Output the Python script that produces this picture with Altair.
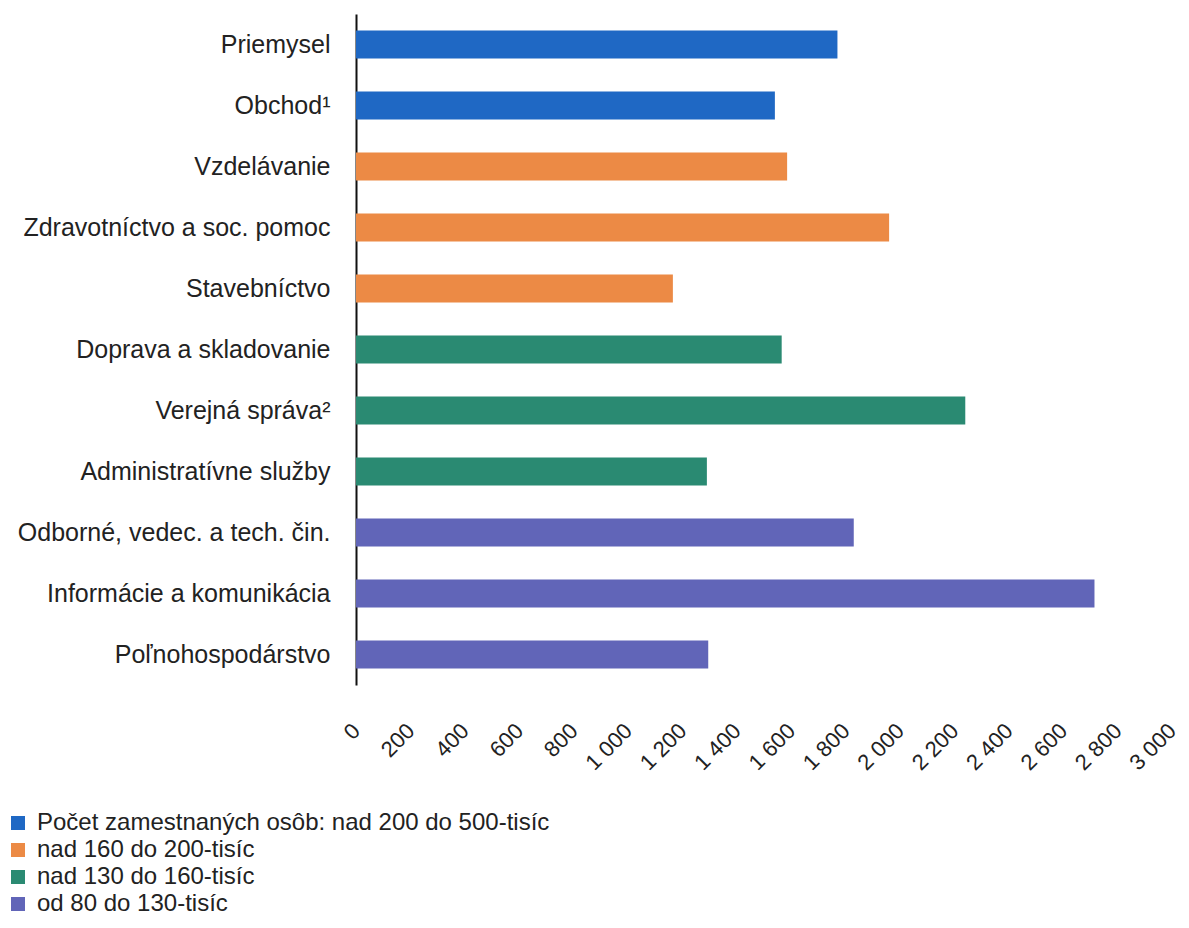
import altair as alt
import pandas as pd

categories = ["Priemysel", "Obchod¹", "Vzdelávanie", "Zdravotníctvo a soc. pomoc",
              "Stavebníctvo", "Doprava a skladovanie", "Verejná správa²",
              "Administratívne služby", "Odborné, vedec. a tech. čin.",
              "Informácie a komunikácia", "Poľnohospodárstvo"]
values = [1770, 1540, 1585, 1960, 1165, 1565, 2240, 1290, 1830, 2715, 1295]
groups_idx = [0, 0, 1, 1, 1, 2, 2, 2, 3, 3, 3]
group_labels = ["Počet zamestnaných osôb: nad 200 do 500-tisíc",
                "nad 160 do 200-tisíc",
                "nad 130 do 160-tisíc",
                "od 80 do 130-tisíc"]
group_colors = ["#1f68c4", "#ec8a45", "#2a8a72", "#6165b8"]
x_ticks = list(range(0, 3001, 200))

df = pd.DataFrame({
    "odvetvie": categories,
    "hodnota": values,
    "skupina": [group_labels[i] for i in groups_idx],
})

font = "Liberation Sans"

chart = alt.Chart(df).mark_bar(size=28).encode(
    y=alt.Y("odvetvie:N", sort=categories, title=None,
            scale=alt.Scale(paddingInner=0.54, paddingOuter=0.27),
            axis=alt.Axis(labelFontSize=25, labelColor="#222222", labelFont=font,
                          ticks=False, domainColor="#111111", domainWidth=2,
                          labelPadding=26, labelLimit=400)),
    x=alt.X("hodnota:Q", title=None,
            scale=alt.Scale(domain=[0, 3000], nice=False),
            axis=alt.Axis(values=x_ticks, labelAngle=-45, labelFontSize=22,
                          labelFont=font, labelColor="#222222",
                          labelExpr="replace(format(datum.value, ','), ',', ' ')",
                          ticks=False, domain=False, grid=False,
                          labelPadding=42, labelAlign="right", labelBaseline="middle",
                          labelFlush=False, labelOverlap=False)),
    color=alt.Color("skupina:N",
                    scale=alt.Scale(domain=group_labels, range=group_colors),
                    legend=alt.Legend(title=None, orient="none", legendX=-350, legendY=797,
                                      symbolType="square", symbolSize=196,
                                      symbolStrokeWidth=0, labelFontSize=24,
                                      labelFont=font, labelColor="#222222",
                                      labelOffset=7, padding=0,
                                      labelLimit=700, rowPadding=3, direction="vertical")),
).properties(
    width=816, height=671, background="white",
    autosize=alt.AutoSizeParams(type="none"),
    padding={"left": 348, "top": 6, "right": 9, "bottom": 235},
).configure_view(strokeWidth=0)

chart.save("out.html", embed_options={"renderer": "svg", "actions": False})
